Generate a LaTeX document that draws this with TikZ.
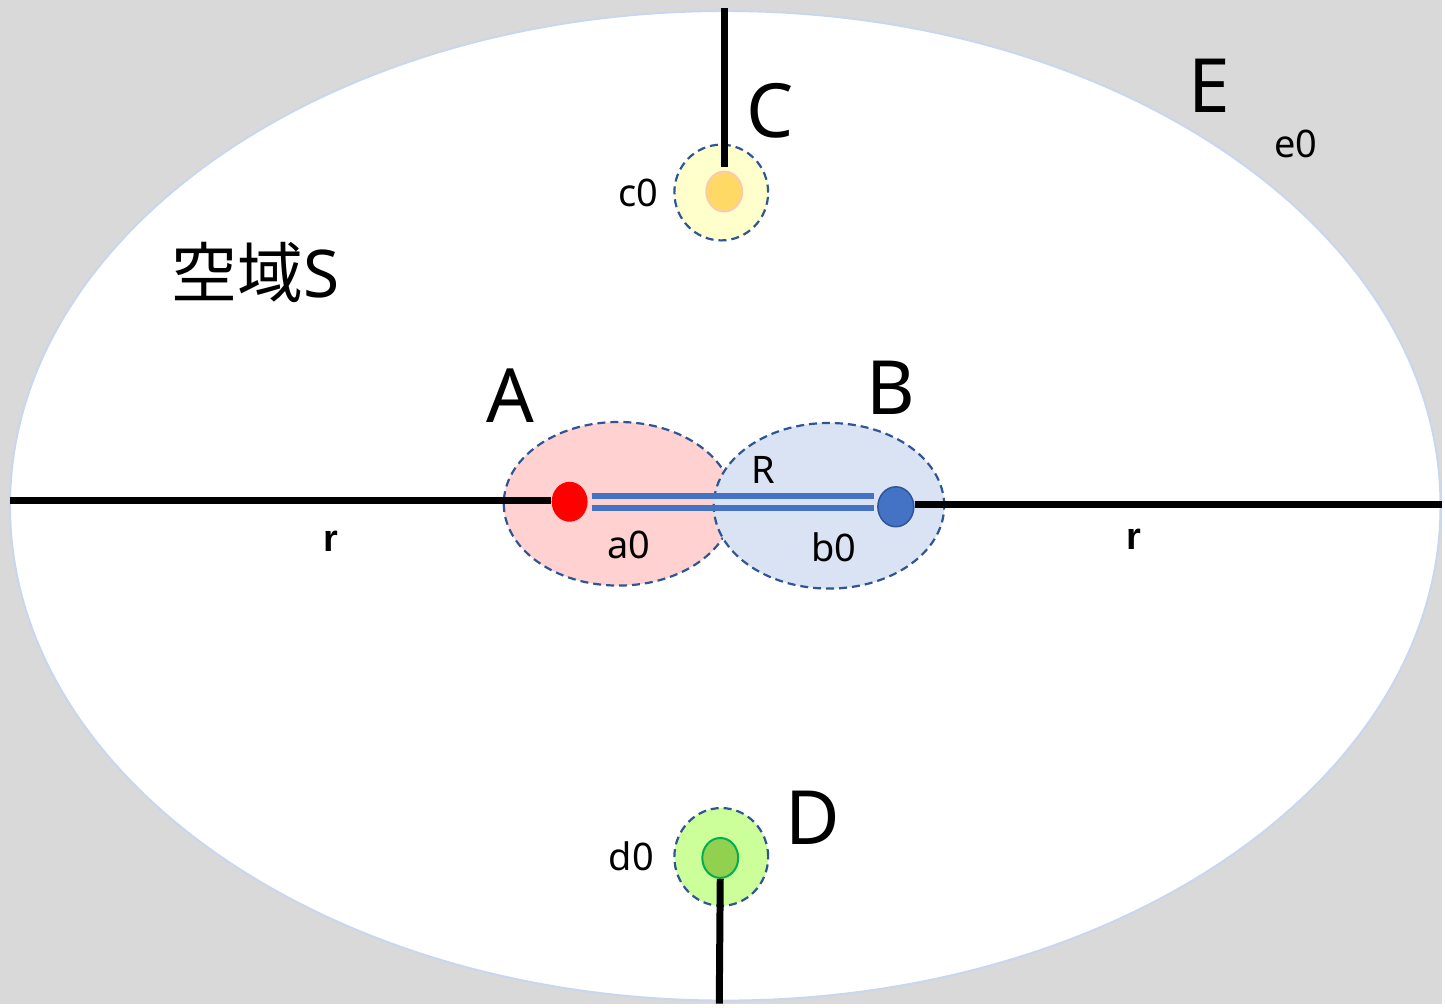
\documentclass[tikz,border=0pt]{standalone}
\usepackage{fontspec}
\setmainfont{Noto Sans}
\newfontfamily\jpfont{Noto Sans CJK JP}
\newfontfamily\rfont{Liberation Sans}
\usetikzlibrary{shapes.geometric}

\definecolor{bggray}{HTML}{D9D9D9}
\definecolor{rimblue}{HTML}{C9D6EE}
\definecolor{dashblue}{HTML}{2F5597}
\definecolor{barblue}{HTML}{4472C4}
\definecolor{pinkfill}{HTML}{FFD1D1}
\definecolor{bluefill}{HTML}{DAE3F3}
\definecolor{yelfill}{HTML}{FFFFCC}
\definecolor{grnfill}{HTML}{CCFF99}
\definecolor{dotyel}{HTML}{FFD966}
\definecolor{dotpink}{HTML}{F8CBAD}
\definecolor{dotgrn}{HTML}{92D050}
\definecolor{dotgrnline}{HTML}{00B050}

\begin{document}
\begin{tikzpicture}[
    x=1pt, y=-1pt,
    zone/.style={ellipse, draw=dashblue, line width=2.2pt, inner sep=0pt, dash pattern=on 8pt off 5pt},
    dot/.style={ellipse, inner sep=0pt, minimum width=36pt, minimum height=40pt},
    bigtag/.style={font=\fontsize{75}{75}\selectfont},
    smalltag/.style={font=\fontsize{38}{38}\selectfont},
    rtag/.style={font=\rfont\fontsize{38}{38}\selectfont\bfseries},
    axis/.style={draw, black, line width=7pt},
    rline/.style={draw=barblue, line width=5.5pt}
]

    % background and space
    \fill[bggray] (0,0) rectangle (1445,1006);
    \draw[rimblue, line width=2pt, fill=white] (727,507) ellipse [x radius=717, y radius=496];

    % regions
    \node [zone, fill=pinkfill, minimum width=230pt, minimum height=164pt] (azone) at (620,505) {};
    \node [zone, fill=bluefill, minimum width=231pt, minimum height=166pt] (bzone) at (831,507) {};
    \node [zone, fill=yelfill, minimum width=94pt, minimum height=96pt] (czone) at (723,193) {};
    \node [zone, fill=grnfill, minimum width=94pt, minimum height=98pt] (dzone) at (723,859) {};

    % points
    \node [dot, fill=red] (adot) at (571,503) {};
    \node [dot, fill=barblue, draw=dashblue, line width=1.5pt] (bdot) at (898,508) {};
    \node [dot, fill=dotyel, draw=dotpink, line width=2pt] (cdot) at (726,192) {};
    \node [dot, fill=dotgrn, draw=dotgrnline, line width=2pt] (ddot) at (722,860) {};

    % end points of the axes
    \coordinate (aend) at (10,502);
    \coordinate (bend) at (1445,506);
    \coordinate (cend) at (726,8);
    \coordinate (dend) at (721,1006);

    % axes
    \path [axis] (aend) -- (adot.west |- aend);
    \path [axis] (bdot.east |- bend) -- (bend);
    \path [axis] (cend) -- ([yshift=4pt]cdot.north);
    \path [axis] (ddot.south) -- (dend);

    % R
    \path [rline] ([xshift=4pt,yshift=6pt]adot.east) -- ([xshift=-3pt,yshift=11pt]bdot.west);
    \path [rline] ([xshift=4pt,yshift=-6pt]adot.east) -- ([xshift=-3pt,yshift=-1pt]bdot.west);

    % labels
    \node [bigtag] (atag) at (512,397) {A};
    \node [bigtag] (btag) at (893,389) {B};
    \node [bigtag] (ctag) at (772,111) {C};
    \node [bigtag] (dtag) at (815,820) {D};
    \node [bigtag] (etag) at (1212,86) {E};
    \node [smalltag] (rtag) at (765,471) {R};
    \node [smalltag] (a0) at (630,546) {a0};
    \node [smalltag] (b0) at (836,549) {b0};
    \node [smalltag] (c0) at (640,193) {c0};
    \node [smalltag] (d0) at (633,858) {d0};
    \node [smalltag] (e0) at (1299,144) {e0};
    \node [rtag] (rleft) at (332,543) {r};
    \node [rtag] (rright) at (1137,541) {r};
    \node [font=\fontsize{66}{66}\selectfont] (space) at (256,273) {{\jpfont 空域}S};

\end{tikzpicture}
\end{document}
